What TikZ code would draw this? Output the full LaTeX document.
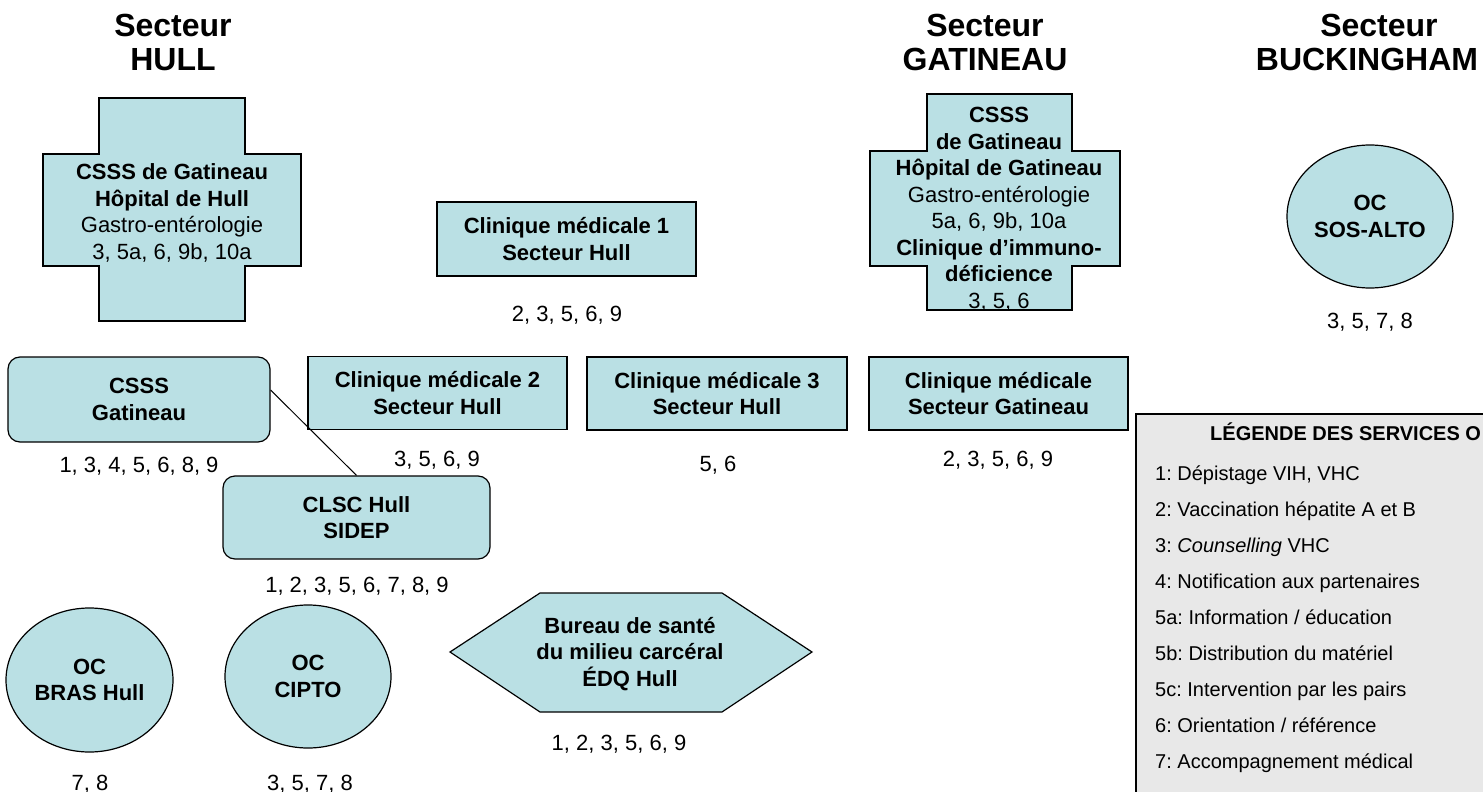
\documentclass[tikz,border=0pt]{standalone}
\usepackage{fontspec}
\setmainfont{Liberation Sans}
\usetikzlibrary{shapes.geometric}
\definecolor{boxfill}{RGB}{186,224,228}
\definecolor{legfill}{RGB}{232,232,232}
\frenchspacing
\begin{document}
\begin{tikzpicture}
  [x=1pt,y=-1pt,
   every node/.style={inner sep=0pt,align=center,font=\fontsize{22}{26.5}\selectfont},
   box/.style={rectangle,fill=boxfill,draw=black,line width=1.2pt,minimum width=259pt,minimum height=73pt,font=\fontsize{22}{26.5}\selectfont\bfseries},
   rbox/.style={box,rounded corners=12pt},
   oc/.style={ellipse,fill=boxfill,draw=black,line width=1.2pt,minimum width=166pt,minimum height=143pt,font=\fontsize{22}{26.5}\selectfont\bfseries},
   plate/.style={fill=boxfill,draw=black,line width=1.2pt},
   sector/.style={font=\fontsize{32}{34}\selectfont\bfseries},
   lbl/.style={anchor=base},
   leg/.style={anchor=base west,font=\fontsize{20}{24}\selectfont}]
  \useasboundingbox (0,0) rectangle (1483,792);
  \clip (0,0) rectangle (1483,792);

  \node[sector] (s1) at (173,42) {Secteur\\HULL};
  \node[sector] (s2) at (985,42) {Secteur\\GATINEAU};
  \node[sector] (s3) at (1367,42) {\hspace*{24pt}Secteur\\BUCKINGHAM};

  \draw[plate] (99,98) -- (245,98) -- (245,154) -- (301,154) -- (301,266) -- (245,266)
    -- (245,321) -- (99,321) -- (99,266) -- (43,266) -- (43,154) -- (99,154) -- cycle;
  \node (n1) at (172,213) {\textbf{CSSS de Gatineau}\\\textbf{Hôpital de Hull}\\Gastro-entérologie\\3, 5a, 6, 9b, 10a};

  \draw[plate] (927,94) -- (1072,94) -- (1072,151) -- (1120,151) -- (1120,266) -- (1072,266)
    -- (1072,310) -- (927,310) -- (927,266) -- (870,266) -- (870,151) -- (927,151) -- cycle;
  \node (n2) at (999,209) {\textbf{CSSS}\\\textbf{de Gatineau}\\\textbf{Hôpital de Gatineau}\\Gastro-entérologie\\5a, 6, 9b, 10a\\\textbf{Clinique d’immuno-}\\\textbf{déficience}\\3, 5, 6};

  \node[box,minimum height=74pt] (n3) at (566.5,239) {Clinique médicale 1\\Secteur Hull};
  \node[oc] (n4) at (1370,216.5) {OC\\SOS-ALTO};

  \node[rbox,minimum width=262pt,minimum height=85pt] (n5) at (139,399.5) {CSSS\\Gatineau};
  \node[box] (n6) at (437.5,393) {Clinique médicale 2\\Secteur Hull};
  \node[box,minimum width=260pt] (n7) at (717,393.5) {Clinique médicale 3\\Secteur Hull};
  \node[box] (n8) at (998.5,393.5) {Clinique médicale\\Secteur Gatineau};
  \node[rbox,minimum width=267pt,minimum height=83pt] (n9) at (356.5,517.5) {CLSC Hull\\SIDEP};

  \draw[line width=1pt] (n9.north) -- ([yshift=9.5pt]n5.east);

  \node[oc,minimum width=167pt,minimum height=144pt] (n10) at (89.5,680) {OC\\BRAS Hull};
  \node[oc] (n11) at (308,676.5) {OC\\CIPTO};
  \draw[plate] (450,652) -- (540,593) -- (722,593) -- (812,652) -- (722,712) -- (540,712) -- cycle;
  \node[font=\fontsize{22}{26.5}\selectfont\bfseries] (n12) at (630,654) {Bureau de santé\\du milieu carcéral\\ÉDQ Hull};

  \foreach \x/\y/\t [count=\k] in {567/321/{2, 3, 5, 6, 9}, 1370/328/{3, 5, 7, 8},
      139/472/{1, 3, 4, 5, 6, 8, 9}, 437/466/{3, 5, 6, 9}, 718/471/{5, 6}, 998/466/{2, 3, 5, 6, 9},
      357/592/{1, 2, 3, 5, 6, 7, 8, 9}, 619/750/{1, 2, 3, 5, 6, 9}, 90/790/{7, 8}, 310/790/{3, 5, 7, 8}}
    \node[lbl] (l\k) at (\x,\y) {\t};

  \draw[fill=legfill,draw=black,line width=1.5pt] (1136,414) rectangle (1500,800);
  \node[leg,font=\fontsize{20}{24}\selectfont\bfseries] (legtitle) at (1210,440) {LÉGENDE DES SERVICES O};
  \foreach \t [count=\k] in {{1: Dépistage VIH, VHC}, {2: Vaccination hépatite A et B},
      {3: \textit{Counselling} VHC}, {4: Notification aux partenaires}, {5a: Information / éducation},
      {5b: Distribution du matériel}, {5c: Intervention par les pairs}, {6: Orientation / référence},
      {7: Accompagnement médical}}
    \node[leg] (leg\k) at (1155,443.9+36.1*\k) {\t};
\end{tikzpicture}
\end{document}
